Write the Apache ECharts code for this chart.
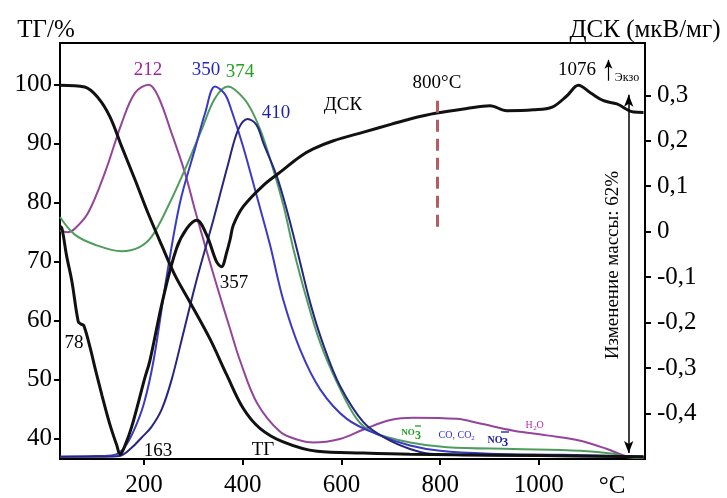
<!DOCTYPE html>
<html>
<head>
<meta charset="utf-8">
<script src="https://cdn.jsdelivr.net/npm/echarts@6/dist/echarts.min.js"></script>
<style>
html,body{margin:0;padding:0;background:#fff}
#chart{width:727px;height:498px}
</style>
</head>
<body>
<div id="chart"></div>
<script>
// ТГ, %
var tgData = [[30,99.9],[80,99.6],[107,97.8],[131,94.6],[155,89.5],[182,83.9],[208,78.3],[237,72.6],[263,67.7],[293,63.2],[334,56.9],[368,50.8],[401,45.2],[435,41.8],[482,39.5],[551,37.9],[644,37.6],[739,37.4],[1000,37.2],[1212,37.0]];
// ДСК, мкВ/мг
var dscData = [[30,0.012],[34,0.007],[43,-0.051],[54,-0.109],[67,-0.198],[72,-0.203],[78,-0.206],[91,-0.255],[101,-0.30],[115,-0.36],[131,-0.424],[145,-0.47],[152,-0.49],[160,-0.475],[175,-0.43],[202,-0.321],[212,-0.284],[239,-0.146],[266,-0.037],[287,0.007],[307,0.025],[327,-0.007],[347,-0.066],[357,-0.077],[368,-0.044],[375,-0.015],[381,0.014],[401,0.055],[442,0.102],[476,0.131],[516,0.165],[543,0.182],[584,0.200],[645,0.219],[700,0.236],[739,0.248],[793,0.261],[854,0.271],[901,0.277],[935,0.266],[989,0.268],[1027,0.274],[1057,0.299],[1080,0.322],[1105,0.305],[1131,0.288],[1158,0.281],[1192,0.263],[1212,0.262]];
// mass-spec curves, drawn on the ТГ scale
var h2oData = [[30,75.3],[45,75.0],[60,75.6],[87,78.3],[121,85.1],[155,93.5],[182,98.6],[210,100],[229,98.0],[256,91.8],[283,85.1],[303,78.9],[324,72.7],[350,65.3],[375,58.5],[395,53.2],[429,46.1],[476,41.2],[510,39.9],[543,39.4],[597,40.0],[645,41.6],[699,43.2],[746,43.6],[834,43.4],[881,42.6],[949,41.4],[1016,40.6],[1084,39.7],[1138,38.3],[1180,37.0],[1212,36.8]];
var no3aData = [[30,77.6],[60,74.6],[101,72.9],[155,71.8],[189,72.4],[216,74.3],[249,79.4],[283,85.6],[317,92.4],[344,97.7],[370,99.7],[385,99.1],[410,96.8],[435,92.5],[460,86.2],[483,79.4],[503,72.1],[530,63.6],[557,56.3],[591,49.6],[631,43.4],[665,41.1],[739,39.4],[814,38.6],[949,38.3],[1084,38.0],[1151,37.5],[1180,36.9],[1212,36.8]];
var coData = [[30,37.0],[100,37.1],[140,37.3],[160,38.5],[180,41.5],[200,46.0],[220,53.5],[246,67.5],[273,80.0],[303,89.0],[324,95.2],[344,99.7],[364,98.4],[378,95.5],[401,89.5],[429,81.0],[455,73.0],[482,63.6],[516,55.2],[557,48.4],[611,43.4],[678,40.6],[739,38.9],[800,38.0],[900,37.5],[1050,37.3],[1212,37.0]];
var no3bData = [[30,37.0],[120,37.0],[150,37.1],[175,38.5],[195,40.2],[215,42.0],[236,45.0],[256,50.0],[280,58.0],[307,67.0],[341,77.2],[371,86.7],[391,92.4],[410,94.2],[428,93.2],[442,90.1],[469,84.5],[489,78.9],[510,72.1],[537,63.0],[564,55.8],[597,49.0],[645,42.8],[692,40.0],[739,38.3],[780,37.5],[900,37.2],[1212,37.0]];

var xTicks = [200,400,600,800,1000];
var tgTicks = [40,50,60,70,80,90,100];
var dscTicks = [-0.4,-0.3,-0.2,-0.1,0,0.1,0.2,0.3];

var FONT = 'Liberation Serif';
var chart = echarts.init(document.getElementById('chart'));

function curve(data, color, width, yIdx, marks) {
    var s = {
        type: 'line',
        data: data,
        yAxisIndex: yIdx,
        symbol: 'none',
        smooth: 0.35,
        silent: true,
        lineStyle: {color: color, width: width},
        itemStyle: {color: color}
    };
    if (marks) s.markLine = marks;
    return s;
}

function txt(x, y, s, size, color, extra) {
    var e = {
        type: 'text', x: x, y: y, silent: true,
        style: {
            text: s, fill: color || '#000',
            font: (extra && extra.bold ? 'bold ' : '') + size + 'px "' + FONT + '"',
            align: 'center', verticalAlign: 'middle',
            textAlign: 'center', textVerticalAlign: 'middle'
        }
    };
    if (extra && extra.rotation) e.rotation = extra.rotation;
    return e;
}
function bar(x1, x2, y, color) {
    return {type: 'line', silent: true, shape: {x1: x1, y1: y, x2: x2, y2: y}, style: {stroke: color, lineWidth: 1.3}};
}

function axisStyle(ticks, margin, fmt) {
    return {
        axisLine: {show: true, onZero: false, lineStyle: {color: '#000', width: 2}},
        axisTick: {show: true, customValues: ticks, length: 6, lineStyle: {color: '#000', width: 2}},
        axisLabel: {customValues: ticks, fontFamily: FONT, fontSize: 25, color: '#000', margin: margin,
            formatter: fmt || function (v) { return String(v); }},
        splitLine: {show: false}
    };
}

var xAxis = Object.assign({type: 'value', min: 30, max: 1215}, axisStyle(xTicks, 14));
var yLeft = Object.assign({type: 'value', min: 36.6, max: 107.06, position: 'left'}, axisStyle(tgTicks, 8));
var yRight = Object.assign({type: 'value', min: -0.5, max: 0.415, position: 'right'},
    axisStyle(dscTicks, 12, function (v) {
        if (Math.abs(v) < 1e-9) return '0';
        return v.toFixed(1).replace('.', ',');
    }));

chart.setOption({
    animation: false,
    grid: {left: 60, right: 82, top: 43, bottom: 37, show: true, borderColor: '#000', borderWidth: 2},
    xAxis: xAxis,
    yAxis: [yLeft, yRight],
    series: [
        curve(h2oData, '#94449a', 2, 0),
        curve(no3aData, '#4f9d5e', 2, 0),
        curve(coData, '#3a3ac4', 2, 0),
        curve(no3bData, '#26267e', 2, 0),
        curve(tgData, '#111', 3, 0, {
            silent: true, animation: false,
            symbol: ['arrow', 'arrow'], symbolSize: [7, 12],
            label: {show: false},
            lineStyle: {color: '#000', width: 1.5, type: 'solid'},
            data: [[{coord: [1182, 98.3]}, {coord: [1182, 37.6]}]]
        }),
        curve(dscData, '#111', 3, 1, {
            silent: true, animation: false,
            symbol: ['none', 'none'],
            label: {show: false},
            data: [
                [{coord: [795, 0.288], lineStyle: {color: '#b45c62', width: 3, type: [12, 7]}}, {coord: [795, 0.0]}],
                [{coord: [1141, 0.332], symbol: 'none', lineStyle: {color: '#000', width: 1.2, type: 'solid'}},
                 {coord: [1141, 0.378], symbol: 'arrow', symbolSize: [6, 9]}]
            ]
        })
    ],
    graphic: [
        txt(46, 30, 'ТГ/%', 25),
        txt(645, 30, 'ДСК (мкВ/мг)', 25),
        txt(612, 486, '°C', 25),
        txt(148, 70, '212', 19, '#a0229f'),
        txt(206, 70, '350', 19, '#2525cf'),
        txt(240, 72, '374', 19, '#22a022'),
        txt(276, 113, '410', 19, '#1f1fa0'),
        txt(343, 105, 'ДСК', 19),
        txt(437, 83, '800°C', 19),
        txt(577, 70, '1076', 19),
        txt(627, 78, 'Экзо', 12),
        txt(234, 283, '357', 19),
        txt(74, 343, '78', 19),
        txt(158, 451, '163', 19),
        txt(263, 450, 'ТГ', 19),
        txt(613, 265, 'Изменение массы: 62%', 19, '#000', {rotation: Math.PI / 2}),
        // NO3- (green)
        txt(408, 433, 'NO', 9, '#22a022', {bold: true}),
        txt(418, 436, '3', 12, '#22a022', {bold: true}),
        bar(415, 421, 426, '#22a022'),
        // CO, CO2
        txt(455, 435, 'CO, CO', 10, '#3030e0'),
        txt(473, 438, '2', 7, '#3030e0'),
        // NO3- (navy)
        txt(495, 440, 'NO', 10, '#1c1ca0', {bold: true}),
        txt(505, 443, '3', 13, '#1c1ca0', {bold: true}),
        bar(501, 509, 432, '#1c1ca0'),
        // H2O
        txt(529, 425, 'H', 10, '#b030b0'),
        txt(535, 428, '2', 7, '#b030b0'),
        txt(540, 425, 'O', 10, '#b030b0')
    ]
});
</script>
</body>
</html>
